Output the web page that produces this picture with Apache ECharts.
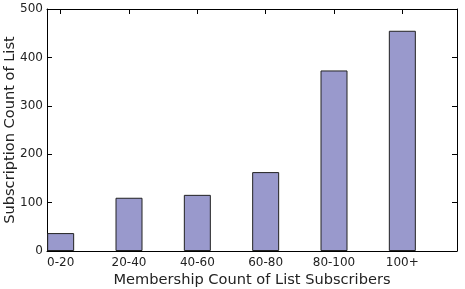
<!DOCTYPE html>
<html>
<head>
    <meta charset="utf-8">
    <title>Subscription count</title>
    <script src="https://cdn.jsdelivr.net/npm/echarts@6/dist/echarts.min.js"></script>
    <style type="text/css">
        * { margin: 0px; padding: 0px; }
        #main { width: 465px; height: 289px; background: #fff; }
    </style>
</head>
<body>
<div id="main"></div>
<script type="text/javascript">
    // data
    var categories = ['0-20', '20-40', '40-60', '60-80', '80-100', '100+'];
    var counts = [37, 110, 116, 163, 373, 455];
    var yTicks = [0, 100, 200, 300, 400, 500];

    var positions = categories.map(function (c, i) { return i; });
    var barData = counts.map(function (v, i) { return [i, v]; });

    var chart = echarts.init(document.getElementById('main'));
    var font = 'DejaVu Sans';

    var frameLine = { show: true, onZero: false, lineStyle: { color: '#000', width: 1 } };
    var tick = { show: true, inside: true, length: 5, lineStyle: { color: '#000' } };

    var option = {
        animation: false,
        grid: { left: 47, right: 8, top: 9, bottom: 38, containLabel: false, outerBoundsMode: 'none' },
        xAxis: [{
            type: 'value', min: -0.2, max: 5.8, position: 'bottom',
            axisLine: frameLine,
            axisTick: Object.assign({}, tick, { customValues: positions }),
            axisLabel: {
                customValues: positions, color: '#222', fontFamily: font, fontSize: 12, margin: 6,
                formatter: function (v) { return categories[Math.round(v)]; }
            },
            splitLine: { show: false },
            name: 'Membership Count of List Subscribers', nameLocation: 'middle', nameGap: 22,
            nameMoveOverlap: false,
            nameTextStyle: { color: '#222', fontFamily: font, fontSize: 14.6 }
        }, {
            type: 'value', min: -0.2, max: 5.8, position: 'top',
            axisLine: frameLine,
            axisTick: Object.assign({}, tick, { customValues: positions }),
            axisLabel: { show: false },
            splitLine: { show: false }
        }],
        yAxis: [{
            type: 'value', min: yTicks[0], max: yTicks[yTicks.length - 1], interval: 100, position: 'left',
            axisLine: frameLine,
            axisTick: tick,
            axisLabel: { color: '#222', fontFamily: font, fontSize: 12, margin: 4 },
            splitLine: { show: false },
            name: 'Subscription Count of List', nameLocation: 'middle', nameGap: 29,
            nameMoveOverlap: false,
            nameTextStyle: { color: '#222', fontFamily: font, fontSize: 14.6 }
        }, {
            type: 'value', min: yTicks[0], max: yTicks[yTicks.length - 1], interval: 100, position: 'right',
            axisLine: frameLine,
            axisTick: tick,
            axisLabel: { show: false },
            splitLine: { show: false }
        }],
        series: [{
            type: 'bar',
            xAxisIndex: 0, yAxisIndex: 0,
            data: barData,
            barWidth: 27,
            itemStyle: { color: '#9999cc', borderColor: '#222', borderWidth: 1 }
        }]
    };
    chart.setOption(option);
</script>
</body>
</html>
